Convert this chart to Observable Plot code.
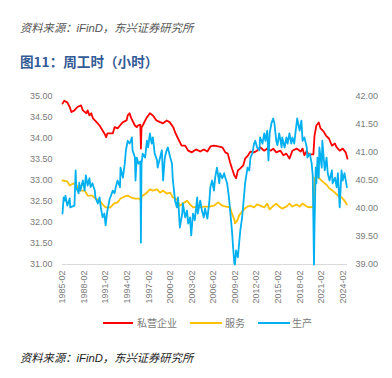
<!DOCTYPE html>
<html><head><meta charset="utf-8">
<script src="https://cdn.jsdelivr.net/npm/d3@7"></script>
<script src="https://cdn.jsdelivr.net/npm/@observablehq/plot@0.6"></script>
<style>
body{margin:0;width:392px;height:378px;background:#fff;position:relative;overflow:hidden;font-family:"Liberation Sans","Noto Sans CJK SC",sans-serif}
.src{position:absolute;left:20px;font-style:italic;font-size:11.3px;white-space:nowrap;line-height:14px}
.title{position:absolute;left:20px;top:52px;font-size:13.6px;font-weight:bold;color:#335B96;white-space:nowrap;line-height:18px;font-family:"Noto Sans CJK SC",sans-serif}
#chart{position:absolute;left:0;top:80px}
.sw{position:absolute;height:2px;top:322px}
.lt{position:absolute;top:316px;font-size:10px;line-height:14px;color:#7a7a7a;white-space:nowrap;font-family:"Noto Sans CJK SC",sans-serif}
</style></head>
<body>
<div class="src" style="top:21px;color:#555">资料来源：iFinD，东兴证券研究所</div>
<div class="title">图11：周工时（小时）</div>
<div id="chart"></div>
<div class="sw" style="left:103px;width:30px;background:#FF0000"></div>
<div class="lt" style="left:137px">私营企业</div>
<div class="sw" style="left:190px;width:32px;background:#FFC000"></div>
<div class="lt" style="left:225px">服务</div>
<div class="sw" style="left:258px;width:32px;background:#00B0F0"></div>
<div class="lt" style="left:292px">生产</div>
<div class="src" style="top:351px;color:#222">资料来源：iFinD，东兴证券研究所</div>
<script>
const seriesNames = ["私营企业", "服务", "生产"];
const seriesColors = ["#FF0000", "#FFC000", "#00B0F0"];
const leftTicks = [31, 31.5, 32, 32.5, 33, 33.5, 34, 34.5, 35];
const rightTicks = [39, 39.5, 40, 40.5, 41, 41.5, 42];
const xTickYears = [1985, 1988, 1991, 1994, 1997, 2000, 2003, 2006, 2009, 2012, 2015, 2018, 2021, 2024];

const redDates = ["1985-02","1985-05","1985-10","1986-02","1986-05","1986-10","1987-03","1987-09","1987-12","1988-06","1988-08","1988-11","1989-02","1989-05","1989-11","1990-04","1990-07","1990-12","1991-03","1991-05","1992-02","1992-05","1992-10","1993-02","1993-07","1994-01","1994-03","1994-06","1994-09","1995-03","1995-06","1995-08","1995-12","1996-01","1996-02","1996-04","1996-10","1997-04","1997-09","1998-03","1998-09","1999-02","1999-08","2000-01","2000-07","2000-10","2001-03","2001-09","2002-03","2002-08","2003-02","2003-09","2004-04","2004-10","2005-04","2005-09","2006-03","2006-10","2007-05","2007-10","2008-02","2008-06","2008-09","2009-01","2009-04","2009-07","2009-11","2010-04","2010-07","2010-12","2011-04","2011-10","2012-03","2012-08","2013-03","2013-08","2014-02","2014-06","2014-11","2015-06","2015-11","2016-04","2016-09","2017-02","2017-09","2018-04","2018-07","2018-10","2019-02","2019-05","2019-10","2020-01","2020-03","2020-06","2020-10","2021-01","2021-06","2021-10","2022-03","2022-08","2023-01","2023-04","2023-09","2024-02","2024-07","2024-10"];
const redValues = [34.83,34.90,34.86,34.75,34.63,34.67,34.75,34.79,34.67,34.60,34.67,34.55,34.60,34.48,34.39,34.31,34.24,34.12,34.03,34.12,34.12,34.27,34.24,34.31,34.39,34.43,34.55,34.60,34.48,34.31,34.27,34.31,34.33,33.76,34.27,34.31,34.48,34.60,34.55,34.43,34.39,34.36,34.43,34.39,34.27,34.15,34.00,33.83,33.83,33.71,33.67,33.74,33.69,33.74,33.69,33.81,33.83,33.81,33.79,33.67,33.64,33.43,33.29,33.12,33.05,33.24,33.29,33.36,33.52,33.60,33.69,33.67,33.71,33.79,33.71,33.76,33.71,33.76,33.67,33.71,33.60,33.64,33.52,33.71,33.76,33.69,33.76,33.60,33.71,33.60,33.62,33.62,34.07,34.31,34.38,34.24,34.17,34.07,34.00,33.83,33.88,33.79,33.71,33.76,33.67,33.52];

const yellowDates = ["1985-02","1985-10","1986-02","1986-08","1987-01","1987-06","1988-03","1988-08","1989-04","1989-09","1990-04","1990-09","1991-02","1991-10","1992-04","1992-10","1993-03","1993-10","1994-03","1994-08","1995-03","1995-12","1996-01","1996-02","1996-11","1997-04","1997-09","1998-04","1998-09","1999-02","1999-08","2000-02","2000-06","2001-01","2001-06","2001-11","2002-06","2002-11","2003-04","2003-11","2004-04","2004-10","2005-07","2006-03","2006-10","2007-05","2007-11","2008-06","2008-09","2009-01","2009-02","2009-06","2009-09","2010-02","2010-06","2010-11","2011-04","2011-10","2012-03","2012-08","2013-03","2013-08","2013-12","2014-05","2014-11","2015-04","2015-09","2016-04","2016-09","2017-02","2017-09","2018-02","2018-07","2019-02","2019-07","2020-01","2020-03","2020-06","2020-11","2021-04","2021-11","2022-04","2022-09","2023-01","2023-06","2023-12","2024-05","2024-09"];
const yellowValues = [33.00,32.98,32.88,32.93,32.90,32.76,32.76,32.64,32.64,32.57,32.52,32.43,32.36,32.36,32.45,32.48,32.57,32.62,32.64,32.60,32.57,32.57,32.45,32.62,32.71,32.79,32.76,32.79,32.71,32.76,32.69,32.71,32.60,32.55,32.40,32.45,32.52,32.43,32.36,32.38,32.36,32.38,32.38,32.40,32.48,32.40,32.38,32.36,32.21,32.07,31.98,32.05,32.17,32.26,32.33,32.38,32.40,32.36,32.43,32.40,32.36,32.45,32.31,32.38,32.45,32.38,32.33,32.38,32.45,32.38,32.43,32.38,32.45,32.38,32.36,32.38,33.05,33.10,33.05,32.98,32.90,32.81,32.76,32.71,32.64,32.60,32.52,32.43];

const blueDates = ["1985-02","1985-04","1985-06","1985-07","1985-10","1986-02","1986-03","1986-10","1986-12","1987-01","1987-05","1987-06","1987-08","1987-12","1988-03","1988-05","1988-08","1988-11","1989-01","1989-04","1989-08","1989-09","1990-01","1990-04","1990-06","1990-09","1990-12","1991-02","1991-05","1991-09","1991-10","1992-02","1992-05","1992-07","1992-10","1993-02","1993-03","1993-07","1993-10","1993-12","1994-03","1994-06","1994-08","1994-10","1994-11","1995-03","1995-04","1995-06","1995-09","1995-12","1996-01","1996-02","1996-04","1996-08","1996-11","1997-01","1997-04","1997-07","1997-09","1997-12","1998-04","1998-05","1998-09","1998-12","1999-02","1999-05","1999-08","1999-10","2000-02","2000-05","2000-06","2000-10","2001-01","2001-03","2001-06","2001-10","2001-11","2002-03","2002-06","2002-08","2002-11","2003-01","2003-04","2003-07","2003-11","2003-12","2004-04","2004-07","2004-10","2004-12","2005-04","2005-07","2005-09","2005-12","2006-03","2006-05","2006-08","2006-12","2007-01","2007-05","2007-08","2007-10","2008-01","2008-04","2008-06","2008-09","2008-11","2009-01","2009-02","2009-04","2009-07","2009-09","2009-11","2010-02","2010-06","2010-07","2010-11","2011-02","2011-04","2011-07","2011-10","2011-12","2012-03","2012-07","2012-08","2012-12","2013-03","2013-05","2013-08","2013-10","2013-12","2014-03","2014-06","2014-08","2014-11","2015-01","2015-04","2015-08","2015-09","2016-01","2016-04","2016-06","2016-09","2016-12","2017-02","2017-05","2017-09","2017-10","2018-02","2018-05","2018-07","2018-10","2019-02","2019-03","2019-07","2019-10","2019-12","2020-02","2020-03","2020-05","2020-06","2020-08","2020-10","2020-11","2021-03","2021-04","2021-08","2021-11","2022-01","2022-04","2022-08","2022-09","2023-01","2023-04","2023-06","2023-09","2023-12","2024-02","2024-05","2024-09"];
const blueValues = [39.91,40.20,40.14,40.23,40.05,40.18,40.02,40.05,40.68,40.38,40.27,40.46,40.32,40.50,40.32,40.59,40.41,40.54,40.38,40.45,40.32,40.20,40.09,40.20,40.02,39.84,39.91,39.70,39.96,40.18,40.20,40.32,40.27,40.38,40.50,40.38,40.73,40.55,40.80,41.04,41.21,41.16,41.21,41.27,41.04,40.91,40.50,40.91,40.80,40.84,39.39,40.80,40.98,40.91,41.21,41.09,41.34,41.16,41.27,40.98,40.86,40.73,40.91,41.04,40.50,40.91,41.04,41.09,40.91,40.80,40.55,40.14,40.02,40.20,39.66,39.91,40.09,39.84,39.96,39.73,39.84,39.52,39.91,39.79,40.20,39.91,40.14,39.96,39.84,40.00,39.82,40.09,40.38,40.50,40.32,40.55,40.73,40.45,40.63,40.54,40.63,40.55,40.45,40.20,39.96,39.61,39.30,39.02,39.00,39.25,39.13,39.38,39.61,39.84,40.32,40.45,40.73,40.68,40.91,40.98,41.16,41.21,41.09,41.04,41.27,41.16,41.34,41.21,41.39,40.86,41.34,41.52,41.61,41.52,41.21,41.13,41.34,41.09,41.27,41.09,41.27,41.16,41.34,41.16,41.27,41.16,41.52,41.61,41.39,41.57,41.21,41.27,41.09,40.91,40.98,40.82,40.59,39.00,39.73,40.73,40.45,40.91,40.55,41.09,40.73,41.21,40.68,40.91,40.63,40.50,40.68,40.45,40.55,40.38,40.63,40.02,40.68,40.50,40.63,40.38];

// right-axis (生产) values are mapped onto the left scale
const toLeft = v => 31 + (v - 39) * 4 / 3;
const fromLeft = v => 39 + (v - 31) * 3 / 4;
const parse = d3.utcParse("%Y-%m");

const redRows = redDates.map((d, i) => ({date: parse(d), y: redValues[i]}));
const yellowRows = yellowDates.map((d, i) => ({date: parse(d), y: yellowValues[i]}));
const blueRows = blueDates.map((d, i) => ({date: parse(d), y: toLeft(blueValues[i])}));

const lineOpts = (c) => ({x: "date", y: "y", stroke: c, strokeWidth: 1.8, strokeLinejoin: "round", strokeLinecap: "round"});

const chart = Plot.plot({
  width: 392, height: 230,
  marginTop: 16, marginBottom: 46, marginLeft: 62, marginRight: 45,
  style: {fontFamily: "'Liberation Sans','Noto Sans CJK SC',sans-serif", fontSize: "9px", color: "#7a7a7a", background: "transparent", overflow: "visible"},
  x: {type: "utc", domain: [parse("1985-02"), parse("2024-10")]},
  y: {domain: [31, 35]},
  marks: [
    Plot.ruleY([31], {stroke: "#d9d9d9", strokeWidth: 1}),
    Plot.line(redRows, lineOpts(seriesColors[0])),
    Plot.line(yellowRows, lineOpts(seriesColors[1])),
    Plot.line(blueRows, lineOpts(seriesColors[2])),
    Plot.axisY(leftTicks, {anchor: "left", tickSize: 0, tickPadding: 10, tickFormat: d => d.toFixed(2), label: null}),
    Plot.axisY(rightTicks.map(toLeft), {anchor: "right", tickSize: 0, tickPadding: 8, tickFormat: d => fromLeft(d).toFixed(2), label: null}),
    Plot.axisX(xTickYears.map(y => new Date(Date.UTC(y, 1, 1))), {tickSize: 0, tickRotate: -90, tickPadding: 6, tickFormat: d3.utcFormat("%Y-%m"), label: null})
  ]
});
document.getElementById("chart").appendChild(chart);
</script>
</body></html>
